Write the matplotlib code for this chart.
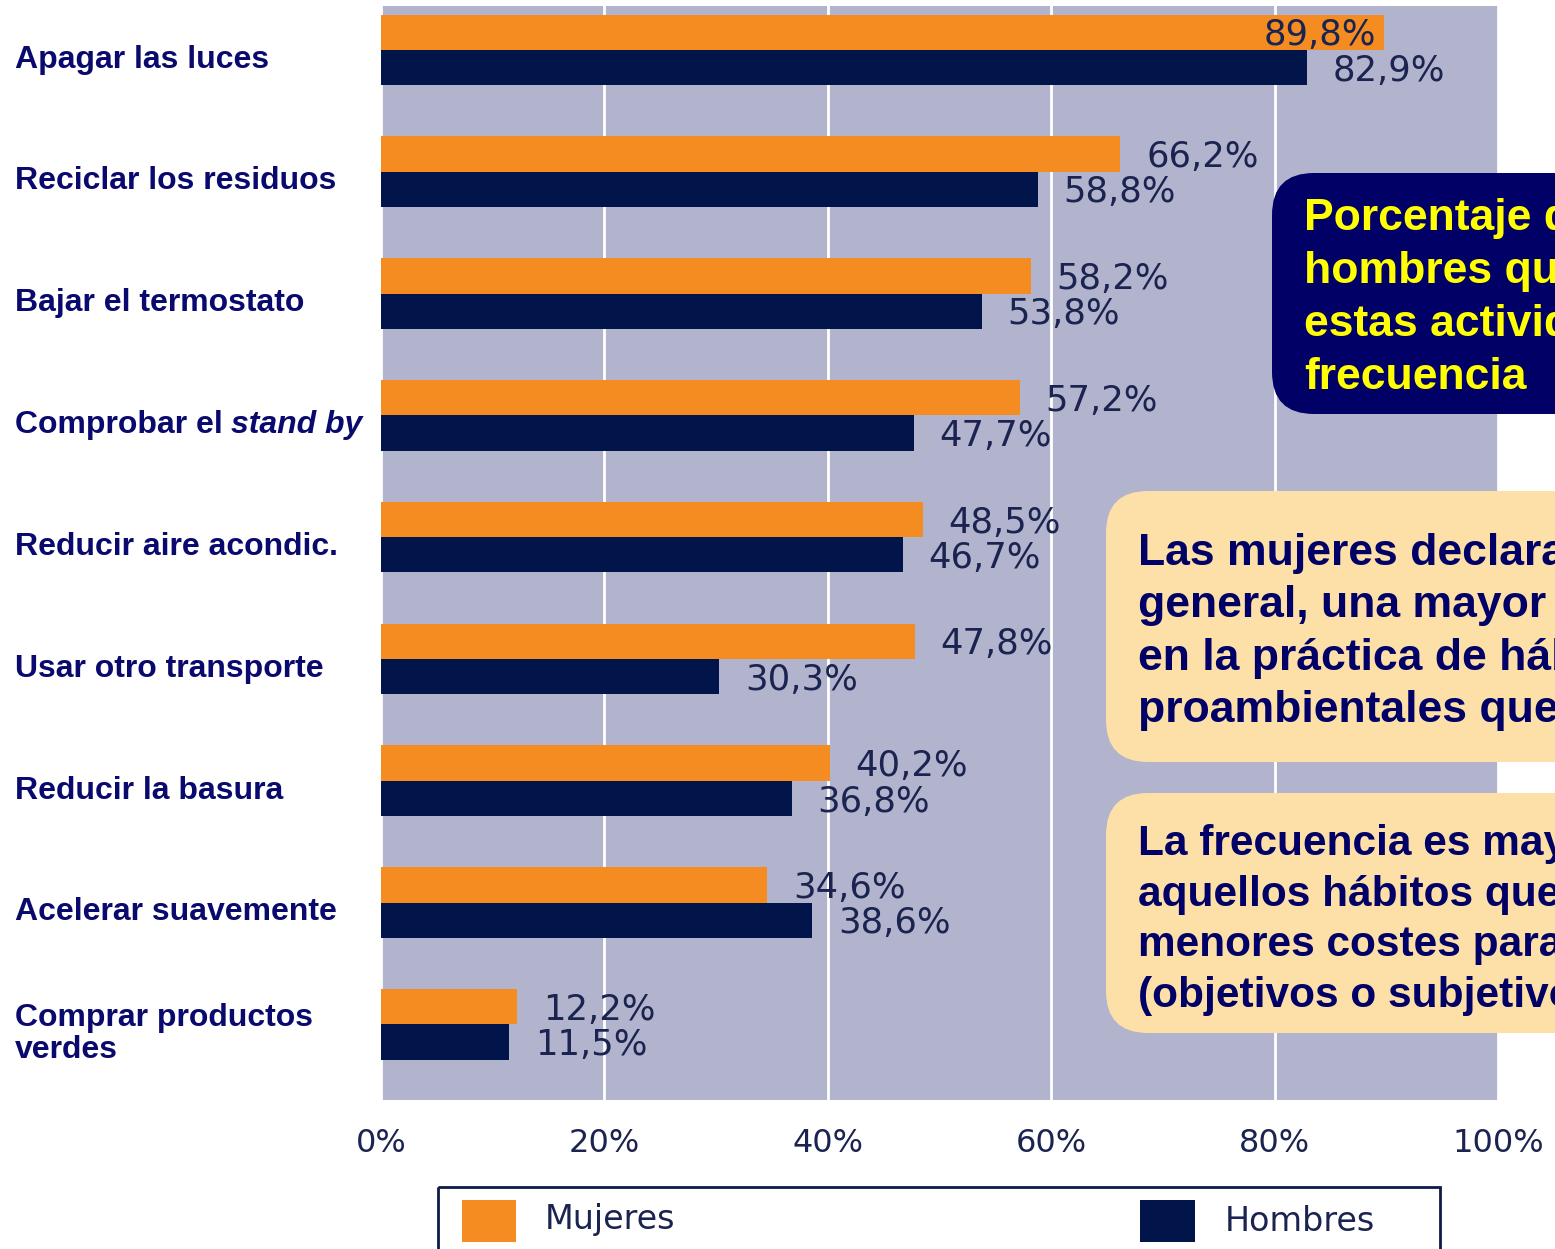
import matplotlib.pyplot as plt
import numpy as np
from matplotlib.patches import FancyBboxPatch, Rectangle
from matplotlib.transforms import Affine2D, blended_transform_factory

categories = ["Apagar las luces", "Reciclar los residuos", "Bajar el termostato",
              "Comprobar el", "Reducir aire acondic.", "Usar otro transporte",
              "Reducir la basura", "Acelerar suavemente", "Comprar productos\nverdes"]
mujeres = [89.8, 66.2, 58.2, 57.2, 48.5, 47.8, 40.2, 34.6, 12.2]
hombres = [82.9, 58.8, 53.8, 47.7, 46.7, 30.3, 36.8, 38.6, 11.5]
ticks = [0, 20, 40, 60, 80, 100]
tick_labels = ["0%", "20%", "40%", "60%", "80%", "100%"]

box1_text = "Porcentaje de mujeres y\nhombres que realizan\nestas actividades con\nfrecuencia"
box2_text = "Las mujeres declaran, en\ngeneral, una mayor frecuencia\nen la práctica de hábitos\nproambientales que los hombres"
box3_text = "La frecuencia es mayor en\naquellos hábitos que suponen\nmenores costes para el individuo\n(objetivos o subjetivos)"

ORANGE = '#f48c22'
NAVY = '#01154a'
BG = '#b1b4cc'
LABEL = '#0a0a6e'
VALUE = '#1b2450'

W, H = 1555, 1249
fig = plt.figure(figsize=(W / 100, H / 100), dpi=100)
# pixel coords measured from the top-left corner
px = Affine2D().scale(1 / W, -1 / H).translate(0, 1) + fig.transFigure

ax = fig.add_axes([381 / W, 1 - 1100 / H, (1498 - 381) / W, (1100 - 6) / H])
ax.set_facecolor(BG)
for s in ax.spines.values():
    s.set_visible(False)

y = np.arange(len(categories))
h = 0.29
ax.barh(y - h / 2, mujeres, height=h, color=ORANGE, zorder=3)
ax.barh(y + h / 2, hombres, height=h, color=NAVY, zorder=3)

ax.set_xlim(0, 100)
ax.set_ylim(8.62, -0.36)
ax.set_xticks(ticks)
ax.set_xticklabels(tick_labels, fontsize=23, color=VALUE, family='DejaVu Sans')
ax.tick_params(axis='x', length=0, pad=20)
ax.set_yticks([])
ax.grid(axis='x', color='white', lw=2)
ax.set_axisbelow(True)

# value labels
for i in range(len(categories)):
    for v, yy in ((mujeres[i], y[i] - h / 2), (hombres[i], y[i] + h / 2)):
        txt = ("%.1f%%" % v).replace('.', ',')
        if v > 85:
            ax.text(v - 0.7, yy + 0.02, txt, ha='right', va='center', fontsize=25.5,
                    color=VALUE, zorder=4)
        else:
            ax.text(v + 2.3, yy + 0.025, txt, ha='left', va='center', fontsize=25.5,
                    color=VALUE, zorder=4)

# category labels, left aligned at the figure edge
lab_tr = blended_transform_factory(fig.transFigure, ax.transData)
for i, c in enumerate(categories):
    t = ax.text(15 / W, y[i] + 0.08, c, transform=lab_tr, ha='left', va='center',
                fontsize=23, fontweight='bold', color=LABEL,
                family='Liberation Sans', linespacing=1.1)
    if c == "Comprobar el":
        ax.annotate("stand by", xy=(1, 0.5), xycoords=t, xytext=(6, 0),
                    textcoords='offset points', ha='left', va='center',
                    fontsize=23, fontweight='bold', fontstyle='italic',
                    color=LABEL, family='Liberation Sans')

# commentary boxes on the right
fig.patches.append(FancyBboxPatch((1272, 173), 500, 241,
                                  boxstyle="round,pad=0,rounding_size=42",
                                  transform=px, facecolor='#000066', edgecolor='none'))
fig.text(1304, 298, box1_text, transform=px, ha='left', va='center',
         fontsize=32, fontweight='bold', color='#ffff00', family='Liberation Sans',
         linespacing=1.38)

fig.patches.append(FancyBboxPatch((1106, 491), 600, 271,
                                  boxstyle="round,pad=0,rounding_size=42",
                                  transform=px, facecolor='#fddfa8', edgecolor='none'))
fig.text(1138, 632, box2_text, transform=px, ha='left', va='center',
         fontsize=32, fontweight='bold', color='#000066', family='Liberation Sans',
         linespacing=1.36)

fig.patches.append(FancyBboxPatch((1106, 793), 600, 240,
                                  boxstyle="round,pad=0,rounding_size=42",
                                  transform=px, facecolor='#fddfa8', edgecolor='none'))
fig.text(1138, 920, box3_text, transform=px, ha='left', va='center',
         fontsize=30.5, fontweight='bold', color='#000066', family='Liberation Sans',
         linespacing=1.35)

# legend box, cut by the bottom edge
fig.patches.append(Rectangle((438, 1187), 1002, 100, transform=px, fill=False,
                             edgecolor='#0d1a4a', lw=2))
fig.patches.append(Rectangle((462, 1200), 54, 42, transform=px, facecolor=ORANGE,
                             edgecolor='none'))
fig.patches.append(Rectangle((1140, 1200), 55, 42, transform=px, facecolor=NAVY,
                             edgecolor='none'))
fig.text(545, 1220, "Mujeres", transform=px, ha='left', va='center', fontsize=24,
         color=VALUE)
fig.text(1225, 1222, "Hombres", transform=px, ha='left', va='center', fontsize=24,
         color=VALUE)

plt.savefig("out.png", dpi=100)
